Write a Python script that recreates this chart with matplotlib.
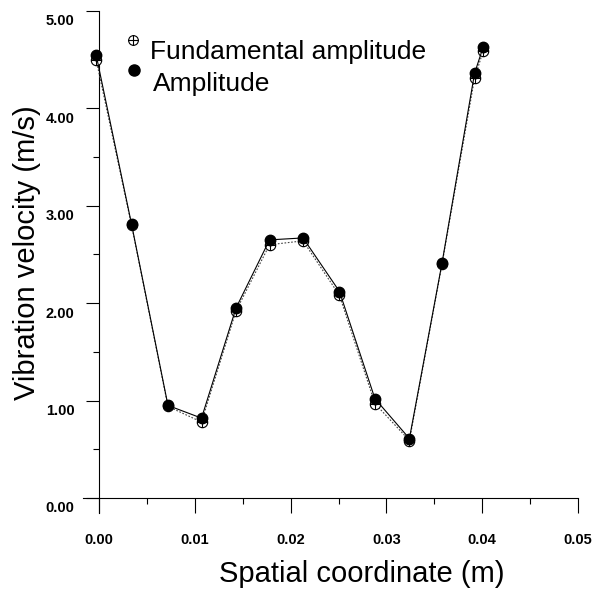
import matplotlib
matplotlib.use("Agg")
import matplotlib.pyplot as plt
import matplotlib.transforms as mtransforms
from matplotlib.path import Path
from matplotlib.ticker import MultipleLocator, FormatStrFormatter

plt.rcParams['font.family'] = ['Liberation Sans', 'DejaVu Sans']

# spatial coordinate (m)
x = [-0.0003, 0.0034, 0.0072, 0.0107, 0.0143, 0.0178, 0.0213,
     0.0251, 0.0288, 0.0324, 0.0358, 0.0392, 0.0401]
# vibration velocity (m/s)
amplitude = [4.55, 2.81, 0.95, 0.82, 1.95, 2.65, 2.67,
             2.12, 1.02, 0.61, 2.41, 4.36, 4.63]
fundamental = [4.50, 2.80, 0.94, 0.78, 1.92, 2.60, 2.64,
               2.08, 0.97, 0.59, 2.40, 4.31, 4.59]

# open circle with a cross for the fundamental
oplus = Path.make_compound_path(
    Path.unit_circle(),
    Path([[-1, 0], [1, 0], [0, -1], [0, 1]],
         [Path.MOVETO, Path.LINETO, Path.MOVETO, Path.LINETO]))

fig = plt.figure(figsize=(5.92, 5.91), dpi=100)
ax = fig.add_axes([0.1402, 0.132, 0.8362, 0.8494])

ax.plot(x, fundamental, color='#444444', lw=0.8, ls=(0, (1.5, 1.5)),
        marker=oplus, ms=7.5, mfc='white', mec='black', mew=0.8, zorder=3)
ax.plot(x, amplitude, color='black', lw=0.8,
        marker='o', ms=7.5, mfc='black', mec='black', zorder=4)

ax.set_xlim(-0.00167, 0.05)
ax.set_ylim(-0.154, 5.0)

for s in ['top', 'right']:
    ax.spines[s].set_visible(False)
ax.spines['left'].set_position(('data', 0))
ax.spines['bottom'].set_position(('data', 0))
ax.spines['left'].set_linewidth(0.8)
ax.spines['bottom'].set_linewidth(0.8)

ax.xaxis.set_major_locator(MultipleLocator(0.01))
ax.xaxis.set_minor_locator(MultipleLocator(0.005))
ax.yaxis.set_major_locator(MultipleLocator(1.0))
ax.yaxis.set_minor_locator(MultipleLocator(0.5))
ax.xaxis.set_major_formatter(FormatStrFormatter('%.2f'))
ax.yaxis.set_major_formatter(FormatStrFormatter('%.2f'))

ax.tick_params(axis='x', which='major', direction='out', length=10.5, width=0.8, pad=15,
               labelsize=10.5)
ax.tick_params(axis='x', which='minor', direction='out', length=4, width=0.8)
ax.tick_params(axis='y', which='major', direction='out', length=9.5, width=0.8, pad=8,
               labelsize=10.5)
ax.tick_params(axis='y', which='minor', direction='out', length=4, width=0.8)
for lab in ax.get_xticklabels() + ax.get_yticklabels():
    lab.set_fontweight('bold')

# y tick labels sit a little below their ticks
offset = mtransforms.ScaledTranslation(0, -0.09, fig.dpi_scale_trans)
for lab in ax.yaxis.get_majorticklabels():
    lab.set_transform(lab.get_transform() + offset)

ax.set_xlabel('Spatial coordinate (m)', fontsize=21)
ax.set_ylabel('Vibration velocity (m/s)', fontsize=21)
ax.xaxis.set_label_coords(0.564, -0.093)
ax.yaxis.set_label_coords(-0.085, 0.518)

# legend
ax.plot([0.101], [0.942], transform=ax.transAxes, marker=oplus, ms=7, mfc='white',
        mec='black', mew=0.8, clip_on=False, ls='none')
ax.plot([0.103], [0.882], transform=ax.transAxes, marker='o', ms=8, color='black',
        clip_on=False, ls='none')
ax.text(0.135, 0.904, 'Fundamental amplitude', transform=ax.transAxes,
        fontsize=19, va='baseline', ha='left')
ax.text(0.141, 0.841, 'Amplitude', transform=ax.transAxes,
        fontsize=19, va='baseline', ha='left')

fig.savefig('out.png', dpi=100)
